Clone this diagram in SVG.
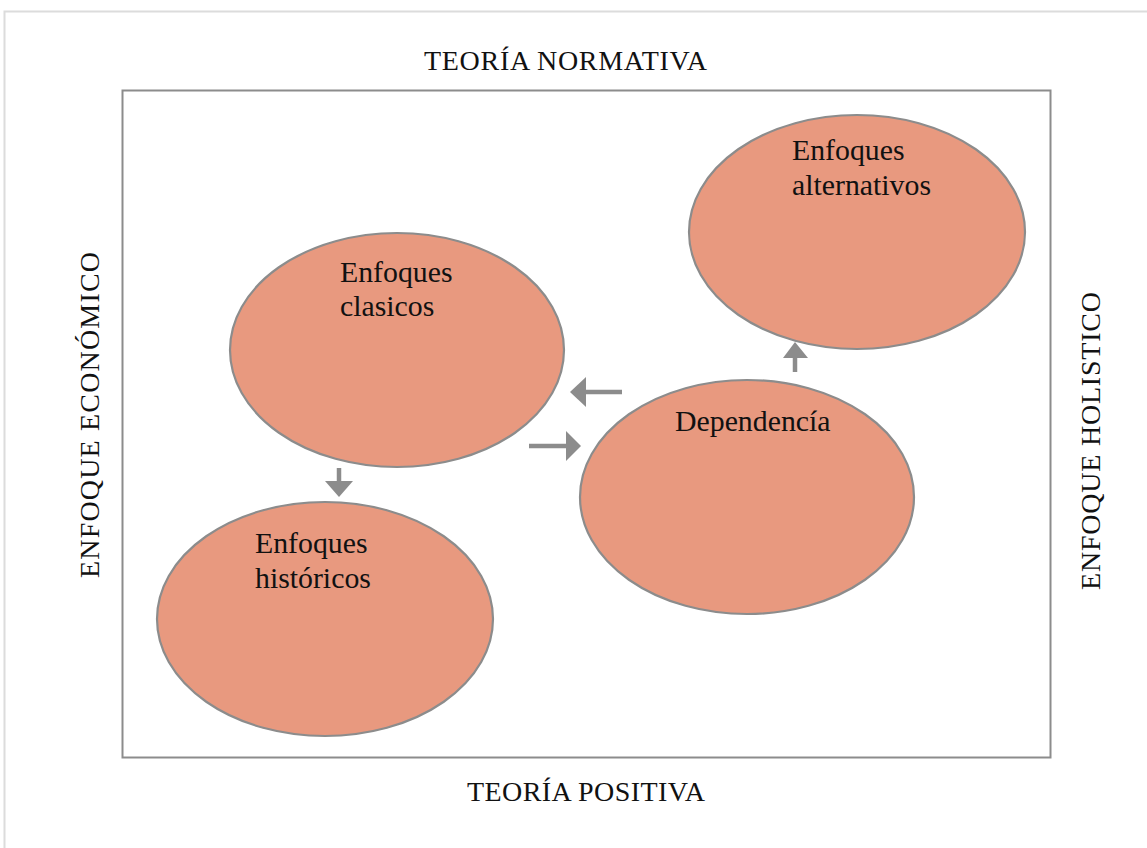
<svg xmlns="http://www.w3.org/2000/svg" width="1147" height="848" viewBox="0 0 1147 848">
<style>
.lbl{font-family:"Liberation Serif","DejaVu Serif",serif;fill:#111;}
.ax{font-size:28px;}
.nt{font-size:29.8px;}
.node ellipse{fill:#E8997F;stroke:#8C8C8C;stroke-width:2.2;}
.conn line{stroke:#8C8C8C;stroke-width:4.5;}
.conn polygon{fill:#8C8C8C;}
</style>
<rect x="0" y="0" width="1147" height="848" fill="#fff"/>
<rect x="4.5" y="11.5" width="1160" height="860" fill="none" stroke="#DCDCDC" stroke-width="2"/>
<rect x="122.5" y="90.5" width="928" height="667" fill="none" stroke="#8C8C8C" stroke-width="2"/>
<text class="lbl ax" x="565.5" y="70" text-anchor="middle" textLength="283">TEORÍA NORMATIVA</text>
<text class="lbl ax" x="586" y="801" text-anchor="middle" textLength="238">TEORÍA POSITIVA</text>
<text class="lbl ax" transform="translate(99,415) rotate(-90)" text-anchor="middle" textLength="326">ENFOQUE ECONÓMICO</text>
<text class="lbl ax" transform="translate(1100,441) rotate(-90)" text-anchor="middle" textLength="298">ENFOQUE HOLISTICO</text>
<g id="node-clasicos" class="node">
<ellipse cx="397" cy="350" rx="167" ry="117"/>
<text class="lbl nt" x="340" y="282">Enfoques</text>
<text class="lbl nt" x="340" y="316">clasicos</text>
</g>
<g id="node-historicos" class="node">
<ellipse cx="325" cy="619" rx="168" ry="117"/>
<text class="lbl nt" x="255" y="553">Enfoques</text>
<text class="lbl nt" x="255" y="588">históricos</text>
</g>
<g id="node-dependencia" class="node">
<ellipse cx="747" cy="497" rx="167" ry="117"/>
<text class="lbl nt" x="675" y="431">Dependencía</text>
</g>
<g id="node-alternativos" class="node">
<ellipse cx="857" cy="232" rx="168" ry="117"/>
<text class="lbl nt" x="792" y="160">Enfoques</text>
<text class="lbl nt" x="792" y="195">alternativos</text>
</g>
<g id="connectors" class="conn">
<line x1="622" y1="392" x2="584" y2="392"/>
<polygon points="570,392 586,377 586,407"/>
<line x1="529" y1="446" x2="567" y2="446"/>
<polygon points="581,446 566,431 566,461"/>
<line x1="339" y1="468" x2="339" y2="484"/>
<polygon points="339,497 325,481 353,481"/>
<line x1="795" y1="372" x2="795" y2="356"/>
<polygon points="795,342 783,358 808,358"/>
</g>
</svg>
